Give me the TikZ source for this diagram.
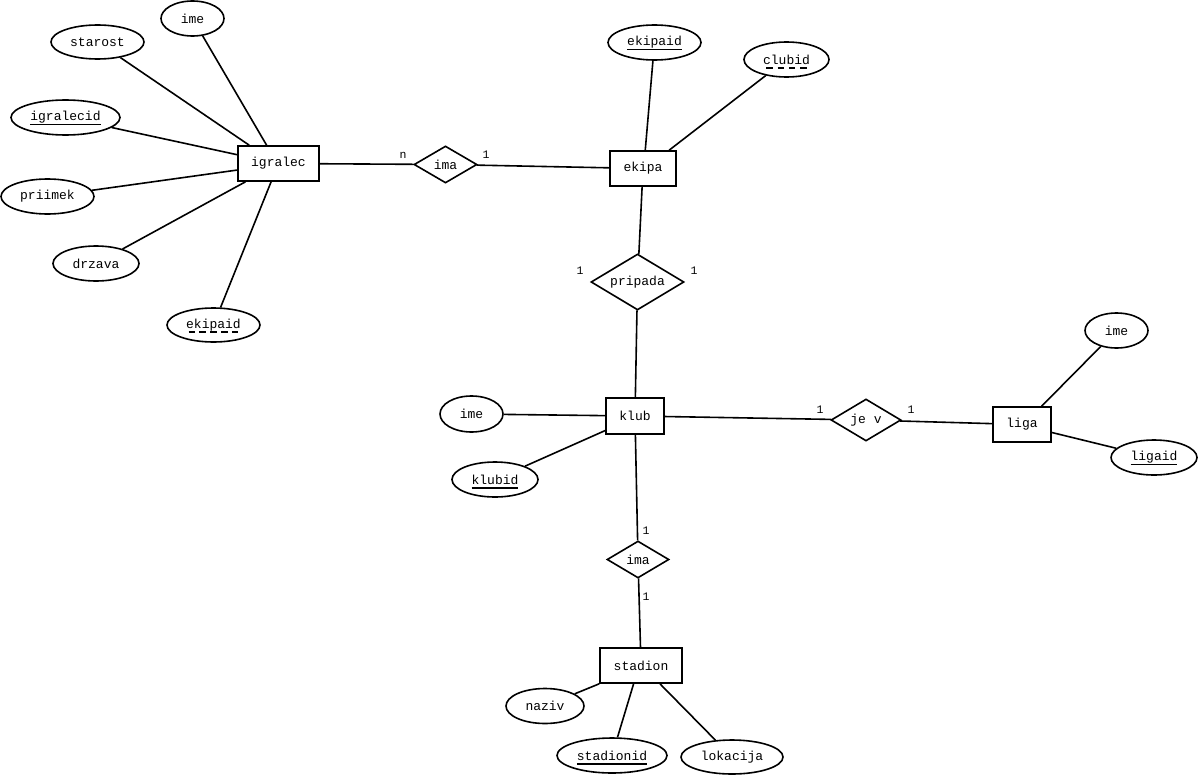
\documentclass[tikz,border=0pt]{standalone}
\usepackage{fontspec}
\usetikzlibrary{shapes.geometric}
\newfontfamily\erfont{Liberation Mono}
\newsavebox\keybox
\newcommand\keyline[1]{\sbox\keybox{#1}\rlap{\smash{\rule[-4.5pt]{\wd\keybox}{1.8pt}}}\usebox\keybox}
\newcommand\partkey[1]{\sbox\keybox{#1}\rlap{\smash{\hbox to\wd\keybox{\xleaders\hbox{\kern1.8pt\rule[-4.5pt]{6.5pt}{1.8pt}\kern1.8pt}\hfill}}}\usebox\keybox}
\begin{document}
\begin{tikzpicture}[x=1pt, y=-1pt, font=\erfont\fontsize{13}{15}\selectfont,
  entity_style/.style={rectangle,draw=black,line width=1.6pt,inner sep=0pt,minimum height=35pt},
  attr_style/.style={ellipse,draw=black,line width=1.6pt,inner sep=0pt,minimum height=35pt},
  rel_style/.style={diamond,aspect=1.7,draw=black,line width=1.6pt,inner sep=0pt},
  card_style/.style={inner sep=0pt,font=\erfont\fontsize{11.5}{12}\selectfont},
  edge_style/.style={draw=black,line width=1.6pt}]
      \useasboundingbox (0,0) rectangle (1198,776);
      \draw
        (278.5,163.5) node[entity_style,minimum width=81pt] (igralec){igralec}
        (643,168.5) node[entity_style,minimum width=66pt] (ekipa){ekipa}
        (635,416) node[entity_style,minimum width=58pt,minimum height=36pt] (klub){klub}
        (1022,424.5) node[entity_style,minimum width=58pt] (liga){liga}
        (641,665.5) node[entity_style,minimum width=82pt] (stadion){stadion}
        (445.5,164.5) node[rel_style,minimum width=63pt,minimum height=37pt] (ima_ie){ima}
        (637.5,282) node[rel_style,minimum width=93pt,minimum height=56pt] (pripada){pripada}
        (866,420) node[rel_style,minimum width=70pt,minimum height=42pt] (jev){je v}
        (638,559.5) node[rel_style,minimum width=62pt,minimum height=37pt] (ima_ks){ima}
        (192.5,18.5) node[attr_style,minimum width=63pt] (ig_ime){ime}
        (97.5,42) node[attr_style,minimum width=93pt,minimum height=34pt] (ig_starost){starost}
        (65.5,117.5) node[attr_style,minimum width=109pt] (ig_id){\keyline{igralecid}}
        (47.5,196.5) node[attr_style,minimum width=93pt] (ig_priimek){priimek}
        (96,263.5) node[attr_style,minimum width=86pt] (ig_drzava){drzava}
        (213.5,325) node[attr_style,minimum width=93pt,minimum height=34pt] (ig_ekipaid){\partkey{ekipaid}}
        (654.5,42.5) node[attr_style,minimum width=93pt] (ek_id){\keyline{ekipaid}}
        (786.5,59.5) node[attr_style,minimum width=85pt] (ek_clubid){\partkey{clubid}}
        (471.5,414) node[attr_style,minimum width=63pt,minimum height=36pt] (kl_ime){ime}
        (495,479.5) node[attr_style,minimum width=86pt] (kl_id){\keyline{klubid}}
        (1116.5,330.5) node[attr_style,minimum width=63pt] (li_ime){ime}
        (1154,457.5) node[attr_style,minimum width=86pt] (li_id){\keyline{ligaid}}
        (545,706) node[attr_style,minimum width=78pt] (st_naziv){naziv}
        (612,755.5) node[attr_style,minimum width=110pt] (st_id){\keyline{stadionid}}
        (732,757) node[attr_style,minimum width=102pt,minimum height=34pt] (st_lokacija){lokacija}
        (403,155) node[card_style] (c1){n}
        (486,155) node[card_style] (c2){1}
        (580,271) node[card_style] (c3){1}
        (694,271) node[card_style] (c4){1}
        (820,410) node[card_style] (c5){1}
        (911,410) node[card_style] (c6){1}
        (646,531) node[card_style] (c7){1}
        (646,597) node[card_style] (c8){1};
      \begin{scope}
        \draw[edge_style] (ig_ime) to (igralec.123);
        \draw[edge_style] (ig_starost) to (igralec.148);
        \draw[edge_style] (ig_id) to (igralec.168);
        \draw[edge_style] (ig_priimek) to (igralec.189);
        \draw[edge_style] (ig_drzava) to (igralec.209);
        \draw[edge_style] (ig_ekipaid) to (igralec.248);
        \draw[edge_style] (igralec) to (ima_ie);
        \draw[edge_style] (ima_ie) to (ekipa);
        \draw[edge_style] (ek_id) to (ekipa.83);
        \draw[edge_style] (ek_clubid) to (ekipa.35);
        \draw[edge_style] (ekipa) to (pripada);
        \draw[edge_style] (pripada) to (klub);
        \draw[edge_style] (kl_ime) to (klub);
        \draw[edge_style] (kl_id) to (klub.206);
        \draw[edge_style] (klub) to (jev);
        \draw[edge_style] (jev) to (liga);
        \draw[edge_style] (li_ime) to (liga.43);
        \draw[edge_style] (li_id) to (liga.345);
        \draw[edge_style] (klub) to (ima_ks);
        \draw[edge_style] (ima_ks) to (stadion);
        \draw[edge_style] (st_naziv) to (stadion.south west);
        \draw[edge_style] (st_id) to (stadion.248);
        \draw[edge_style] (st_lokacija) to (stadion.316);
      \end{scope}
    \end{tikzpicture}
\end{document}
